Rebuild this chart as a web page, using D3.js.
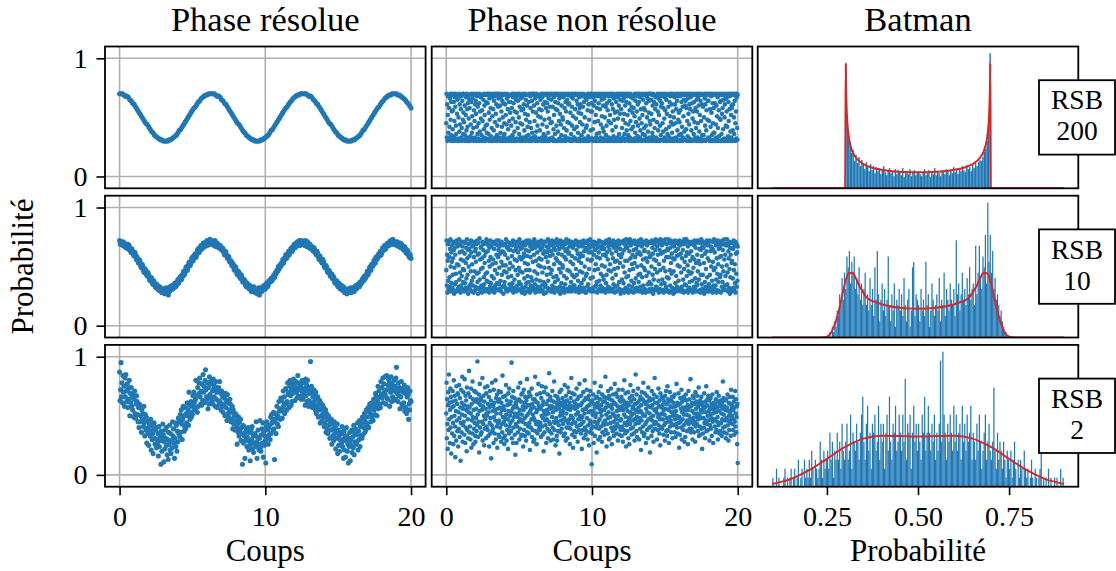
<!DOCTYPE html>
<html><head><meta charset="utf-8">
<script src="https://cdn.jsdelivr.net/npm/d3@7"></script>
<style>
body{margin:0;background:#fff}
svg{display:block}
</style>
</head><body><svg id="chart" width="1116" height="571"></svg>
<script>
// ===== DATA =====
const columnTitles = ["Phase résolue", "Phase non résolue", "Batman"];
const rowLabels = [["RSB", "200"], ["RSB", "10"], ["RSB", "2"]];
const xLabels = ["Coups", "Coups", "Probabilité"];
const yLabel = "Probabilité";
const shotTicks = [0, 10, 20];
const probTicks = [0, 1];
const histTicks = [0.25, 0.5, 0.75];
const shotRange = [0, 20];

// Phase résolue (probabilities in percent, evenly spaced shots over 0..20)
const resolved200 = [70,70,70,69,68,68,67,65,64,62,61,59,57,55,53,51,49,47,45,44,42,40,38,37,35,34,33,32,31,31,30,30,30,30,31,31,32,33,34,35,37,39,40,42,44,46,48,50,52,54,56,58,59,61,63,64,66,67,68,69,69,70,70,
70,70,70,69,68,68,67,65,64,62,61,59,57,55,53,51,49,47,45,44,42,40,38,37,35,34,33,32,31,31,30,30,30,30,31,31,32,33,34,35,37,39,40,42,44,46,48,50,52,54,56,58,59,61,63,64,66,67,68,69,69,70,70,
70,70,70,69,68,68,67,65,64,62,61,59,57,55,53,51,49,47,45,44,42,40,38,37,35,34,33,32,31,31,30,30,30,30,31,31,32,33,34,35,37,39,40,42,44,46,48,50,52,54,56,58,59,61,63,64,66,67,68,69,69,70,70,
70,70,69,69,68,67,66,65,63,62,60,58];

const resolved10 = [72,69,71,70,68,71,70,67,69,66,67,69,65,68,66,63,62,65,63,60,59,62,60,56,58,55,53,56,55,50,49,52,50,46,45,48,47,43,42,45,43,39,38,41,40,36,35,38,36,33,32,35,34,31,30,33,32,29,28,31,31,29,27,30,32,28,30,26,29,33,30,32,34,31,32,35,36,33,34,37,39,36,38,41,42,39,41,44,46,43,45,49,50,47,49,53,54,51,53,57,58,55,57,60,61,58,60,64,65,62,63,67,68,65,66,70,70,67,68,71,72,68,69,71,73,70,
69,72,71,68,70,72,67,69,70,67,66,68,68,65,64,66,65,62,60,63,62,59,57,59,58,54,54,55,51,53,52,48,47,50,48,44,43,46,45,41,40,43,41,37,37,39,38,34,33,36,35,32,31,34,33,29,30,32,33,29,28,31,31,27,29,32,26,30,32,29,30,33,34,31,31,35,36,33,34,38,38,37,40,38,39,42,43,41,45,44,47,46,50,48,51,50,53,52,56,53,57,56,60,57,58,61,63,60,62,65,66,63,65,68,69,66,67,70,71,68,70,72,68,71,72,69,
71,69,68,72,70,67,71,68,66,69,68,65,67,64,63,66,64,61,60,63,61,58,56,59,57,54,53,56,54,50,49,51,50,46,45,47,46,42,43,44,40,42,41,37,36,38,38,34,33,36,35,31,32,34,30,33,32,28,29,31,27,30,31,28,29,32,28,31,32,30,29,33,34,31,32,35,35,33,37,35,36,39,40,38,42,40,41,44,46,43,45,49,50,47,52,50,51,55,56,53,58,56,57,60,61,59,63,60,62,66,66,64,68,65,66,69,70,68,68,71,72,69,70,73,69,71,
71,69,68,71,70,67,68,70,66,69,67,65,64,67,66,62,61,64,62,59,58,60,57];

const resolved2 = [87,63,72,95,66,78,61,84,70,75,58,82,66,85,71,62,77,57,73,64,80,50,69,61,74,58,66,55,68,49,64,71,52,48,60,67,62,51,45,57,40,60,45,58,50,36,55,47,52,41,58,44,33,51,38,49,27,46,35,40,25,44,37,33,47,21,42,30,35,18,39,44,31,26,40,38,23,30,27,35,16,41,24,33,29,9,37,20,32,43,34,11,28,22,38,31,40,25,17,30,13,36,26,42,21,35,18,29,23,45,33,39,27,14,31,44,24,42,20,37,28,48,35,45,32,51,36,55,43,30,47,58,50,37,41,57,39,52,44,61,50,55,42,70,59,47,53,62,49,58,51,67,60,70,55,62,64,80,57,67,53,74,58,78,69,82,66,60,71,59,77,63,85,70,75,61,80,89,72,66,64,78,56,74,60,83,68,79,65,
77,62,71,60,81,73,66,75,58,79,64,70,57,72,63,74,60,79,62,69,55,71,58,66,53,68,60,65,50,69,57,63,46,68,52,61,49,55,64,60,45,53,47,58,39,55,43,50,38,52,46,51,40,26,43,36,49,33,45,38,47,29,40,35,9,42,27,41,33,14,36,30,39,24,32,29,40,21,36,25,12,26,38,30,41,22,34,19,33,27,35,24,45,28,14,32,38,26,21,31,46,23,20,34,39,27,44,15,37,25,33,29,10,41,45,31,38,26,40,34,42,30,49,35,51,44,47,38,53,39,13,45,52,35,48,58,43,50,41,62,54,56,47,65,63,54,48,57,71,59,66,52,61,73,60,55,62,78,68,70,57,75,80,67,59,72,62,77,69,81,74,76,63,71,79,70,65,73,84,67,66,77,72,78,75,64,71,80,68,
64,78,70,73,59,81,67,76,62,80,71,58,63,74,69,96,61,75,70,57,66,59,72,62,67,55,70,52,64,58,66,49,60,55,63,44,61,50,56,46,59,52,57,41,49,44,55,36,52,39,47,35,50,42,48,31,44,38,47,26,43,33,39,29,45,35,40,22,37,31,43,18,38,25,33,20,36,29,35,27,41,24,30,14,37,21,33,15,29,40,33,20,26,10,31,24,36,12,29,25,38,19,32,23,42,17,35,28,39,26,34,28,44,21,37,30,46,24,41,33,43,31,49,34,47,40,52,36,45,38,55,43,49,41,57,40,53,60,56,45,51,61,48,57,46,64,55,60,51,69,67,58,50,63,75,56,71,60,66,57,79,68,74,65,82,61,77,70,83,68,60,72,84,65,64,76,81,79,58,73,70,83,62,77,66,74,63,80,71,
75,64,82,91,69,73,62,78,67,74,56,71,66,79,60,73,58,70,61,76,54,69,57,72,52,66,74,68,47,60,55,71,63,62];

// Phase non résolue (probabilities in percent, evenly spaced shots over 0..20)
const unresolved200 = [45,70,33,61,30,52,68,37,31,69,58,42,32,66,70,48,35,63,30,55,
69,31,40,56,70,34,63,30,47,67,32,59,70,43,36,69,31,53,65,30,
32,66,50,30,70,38,61,44,69,31,57,33,68,41,30,64,70,48,36,54,
70,46,31,60,35,69,30,52,67,39,33,70,57,42,62,30,68,49,31,65,
58,30,69,34,44,70,63,31,37,51,66,32,70,41,30,56,69,47,33,61,
31,64,53,70,30,42,68,36,59,32,69,45,30,62,70,38,55,31,67,49,
68,35,30,56,69,47,31,65,70,40,33,60,52,30,69,43,63,32,70,37,
44,69,62,31,70,36,54,30,66,48,32,70,58,34,69,30,41,67,51,31,
30,57,70,39,64,31,68,46,33,70,53,30,61,69,35,43,70,32,59,66,
70,33,48,69,30,60,37,67,31,55,70,42,64,30,50,69,34,62,31,45,
36,70,61,30,52,69,32,44,66,31,70,57,40,68,30,63,47,33,69,54,
63,31,69,43,30,58,70,35,49,67,32,62,30,70,38,55,69,31,46,65,
30,68,54,32,70,41,64,31,69,50,36,70,59,30,45,66,33,69,56,31,
67,44,30,70,57,33,61,69,39,31,53,70,30,65,48,34,69,60,31,42,
52,69,35,63,30,70,46,31,68,58,32,41,70,30,64,37,69,55,33,70,
31,60,70,47,34,66,30,69,54,38,70,31,62,43,30,68,51,32,69,57,
69,39,31,65,50,30,70,56,33,67,44,31,70,61,36,30,69,48,63,32,
34,70,58,30,69,42,62,31,55,70,37,66,30,49,69,32,59,70,45,31,
65,31,46,70,33,59,69,30,40,67,52,31,70,36,63,30,57,69,43,70,
30,56,69,38,62,31,70,47,66,32,53,30,69,44,70,35,60,31,68,50,
48,30,67,70,41,31,58,69,34,63,30,55,70,39,32,65,46,69,31,61,
70,62,32,45,69,30,54,68,36,31,70,59,43,30,66,51,69,33,70,40,
33,69,57,31,70,49,30,64,42,69,31,61,37,70,54,30,67,32,58,46,
61,30,70,53,35,68,31,44,69,59,30,70,38,63,32,50,69,31,66,41,
30,65,43,69,31,56,70,34,61,30,48,69,67,32,70,39,55,31,62,70,
55,32,69,40,30,67,60,31,70,46,64,30,69,52,33,70,36,58,30,68,
69,47,31,62,70,37,30,57,68,33,44,70,31,65,51,30,69,41,60,32,
38,70,66,30,50,69,31,59,35,70,43,62,30,69,56,31,68,47,33,70,
64,30,52,69,32,45,70,31,61,68,39,30,57,70,34,66,48,69,30,54,
31,69,42,63,30,70,55,33,67,49,31,70,60,36,69,30,53,65,32,70,
57,30,69,41,64,33,70,48,31,66,53,36,69,30,60,45,70,32,63,39,
31,68,52,70,35,44,69,30,62,56,33,70,47,31,67,40,59,69,30,54,
66,42,30,58,69,32,51,70,37,64,30,46,68,31,55,70,34,61,43,69,
30,63,70,49,33,67,39,31,57,69,45,30,70,52,36,65,31,69,58,41,
69,35,56,30,70,43,62,32,68,50,31,66,38,70,30,54,64,33,47,70,
44,70,31,65,53,30,69,37,60,34,70,48,31,63,69,41,30,57,67,32,
33,61,69,46,30,70,55,39,66,31,52,69,30,43,64,70,35,59,31,68,
62,31,45,70,38,58,30,69,49,33,67,56,70,31,40,65,30,53,69,36,
30,69,59,34,70,42,63,31,51,68,30,46,70,61,32,37,69,55,44,30,
70,50,32,67,30,61,45,69,33,57,70,31,64,39,30,68,48,70,54,35,
46,30,68,56,31,70,36,63,69,42,30,59,33,70,51,65,31,38,69,60,
31,64,70,40,58,30,69,47,34,66,70,53,30,44,61,32,70,57,67,30,
68,39,31,62,70,49,30,55,69,36,63,31,46,70,33,58,69,41,30,65,
55,70,33,45,67,31,60,70,38,30,52,69,64,32,47,70,30,61,35,69,
30,59,69,35,50,70,31,66,43,61,30,70,39,56,69,31,48,64,70,33,
64,32,47,69,30,57,70,42,31,68,54,35,70,30,62,45,69,37,58,31,
37,70,62,30,69,44,33,60,70,51,31,67,41,30,69,56,34,70,49,63,
69,48,30,64,36,70,53,31,58,69,40,30,65,70,32,50,61,30,68,43,
31,66,55,70,42,30,69,34,63,47,70,31,57,68,30,38,70,52,33,60,
58,30,70,39,61,69,31,50,36,70,64,30,45,69,55,32,67,70,41,31,69];

const unresolved10 = [47,72,34,60,28,55,69,38,31,71,58,41,33,65,73,50,29,62,36,54,
68,32,43,57,71,30,64,27,49,66,35,60,70,44,37,72,29,52,67,31,
30,69,51,33,73,39,62,45,68,28,56,34,71,42,31,63,67,48,37,55,
71,47,29,61,36,70,32,53,66,40,30,73,57,43,64,27,69,50,33,65,
59,31,70,35,46,72,62,29,38,52,67,34,68,41,28,58,71,46,30,63,
33,65,54,69,31,44,72,37,60,27,70,45,32,61,74,39,56,30,66,48,
67,34,28,57,71,49,32,64,69,41,35,59,53,29,70,44,62,31,73,38,
45,70,63,30,68,37,55,28,66,50,33,72,58,36,67,31,42,69,52,29,
32,56,71,40,65,28,70,47,34,69,53,31,60,72,36,44,68,30,58,64,
72,35,49,67,31,61,38,70,29,54,71,43,63,33,51,68,27,62,34,46,
37,69,60,32,51,73,30,45,66,29,71,57,41,67,31,64,48,35,70,53,
64,30,70,42,33,59,68,36,50,72,28,63,31,69,39,56,71,32,47,65,
29,67,55,34,71,43,62,30,68,49,37,73,58,31,46,65,35,70,56,28,
66,45,32,69,58,30,61,71,40,27,53,68,33,64,47,36,72,59,29,42,
52,70,37,63,31,72,47,28,67,58,34,41,69,30,65,38,71,54,32,68,
30,60,73,46,35,66,28,70,55,39,68,31,62,44,33,71,51,29,67,57,
70,38,31,64,50,29,72,56,34,66,45,30,69,61,37,27,71,49,63,33,
35,71,58,28,67,43,62,32,54,73,38,65,30,49,70,31,59,68,44,29,
63,29,47,72,34,60,69,31,41,66,52,28,71,37,64,32,57,70,42,73,
31,55,68,39,61,29,70,48,65,33,53,27,72,45,69,36,60,30,67,51,
49,32,66,71,42,28,58,69,35,63,30,56,73,40,31,65,47,70,29,61,
72,62,30,46,67,33,54,70,37,29,71,59,43,31,66,52,68,34,69,41,
34,70,57,29,72,48,31,64,43,68,30,61,38,71,55,28,67,33,58,46,
61,31,71,53,36,69,29,45,67,59,32,72,39,63,30,50,70,28,66,42,
28,65,44,70,33,56,72,35,62,30,48,68,66,31,73,40,55,29,62,71,
56,30,68,41,32,67,60,29,71,47,64,33,70,52,34,69,37,58,28,66,
70,48,30,62,72,38,31,57,67,34,44,71,29,65,51,32,68,42,60,30,
39,69,65,31,50,71,28,59,36,72,43,62,30,70,56,33,67,47,29,73,
64,32,52,70,30,46,68,29,61,69,40,31,57,72,35,66,48,70,28,54,
33,68,43,63,29,71,55,34,66,49,30,72,60,37,69,31,53,65,27,70,
58,29,71,39,61,70,30,50,36,72,64,28,45,69,55,32,67,73,41,30,
31,66,55,72,42,28,70,34,63,47,73,30,57,68,29,38,71,52,33,60,
70,48,28,64,36,72,53,31,58,69,40,29,65,71,32,50,61,30,68,43,
37,72,62,29,70,44,33,60,73,51,30,67,41,28,69,56,34,71,49,63,
64,31,47,70,28,57,72,42,30,68,54,35,71,29,62,45,70,37,58,31,
29,59,70,35,50,72,31,66,43,61,27,71,39,56,69,30,48,64,73,33,
55,71,33,45,67,30,60,72,38,28,52,70,64,31,47,73,29,61,35,69,
68,39,30,62,72,49,28,55,70,36,63,31,46,73,33,58,69,41,29,65,
30,64,73,40,58,28,70,47,34,66,72,53,29,44,61,32,71,57,68,27,
46,28,67,56,31,72,36,63,70,42,29,59,33,71,51,65,30,38,69,60,
72,50,31,68,29,61,45,70,33,57,71,30,64,39,28,69,48,73,54,35,
29,70,59,34,73,42,62,30,51,67,28,46,71,61,32,37,69,55,44,30,
63,30,45,71,38,58,28,69,49,33,68,56,72,31,40,66,29,53,70,36,
34,60,72,46,29,71,55,39,65,30,52,70,28,43,64,73,35,59,31,67,
43,71,30,66,53,27,70,37,61,33,69,48,31,63,72,41,29,57,68,32,
70,35,55,29,72,43,63,32,67,50,30,66,38,71,28,54,64,34,47,73,
31,62,71,49,34,68,39,28,57,70,44,30,72,52,37,65,29,69,58,41,
67,43,28,59,71,33,50,72,37,64,30,46,69,31,56,73,34,60,42,68,
30,69,51,73,35,45,68,29,63,57,32,71,48,27,66,41,60,70,31,53,
55,29,70,40,65,32,72,47,30,67,52,36,71,28,61,44,69,33,62,38,67];

const unresolved2 = [52,78,31,64,43,22,59,70,38,85,47,61,27,55,73,40,66,18,49,57,
35,62,71,44,26,58,80,33,50,67,41,15,63,54,29,75,46,60,37,69,
68,24,53,39,76,48,32,65,57,12,44,72,36,61,51,83,28,56,42,70,
45,59,34,81,50,27,67,40,63,55,20,74,38,58,47,31,69,53,88,36,
57,41,66,30,52,73,23,60,46,35,79,49,64,26,55,39,71,44,62,33,
28,70,48,56,37,64,42,96,51,32,61,45,68,19,54,77,40,59,34,65,
63,36,55,45,82,29,58,43,67,50,25,62,39,74,47,56,31,69,52,41,
50,75,38,60,33,53,66,24,57,44,71,35,48,63,14,59,42,78,37,54,
39,58,27,72,49,61,35,55,46,80,30,65,52,41,68,23,56,44,62,34,
71,46,64,32,57,40,52,70,28,61,43,55,36,84,49,66,31,58,45,26,
55,33,48,67,42,76,51,29,63,38,59,47,22,69,54,35,73,41,60,50,
44,62,37,53,95,31,66,46,56,27,71,40,58,49,65,34,52,17,61,43,
60,27,57,41,63,49,36,74,52,45,64,30,55,39,78,47,62,33,68,51,
34,69,45,58,24,55,72,38,61,48,33,66,43,57,29,63,50,81,36,59,
66,41,52,35,70,44,59,21,54,67,40,56,47,73,32,60,38,51,64,28,
48,57,30,64,46,83,37,62,43,53,26,68,55,35,61,45,77,42,58,39,
57,38,69,44,56,32,65,50,75,41,59,34,48,62,20,54,70,36,52,46,
42,74,51,27,60,47,55,39,68,31,63,52,45,86,37,58,43,66,29,56,
63,35,58,49,71,40,53,30,62,45,79,38,57,44,67,25,55,48,61,33,
29,66,45,59,37,64,42,56,18,70,50,61,36,53,46,72,39,59,51,65,
54,43,62,33,57,48,76,35,60,46,29,67,52,40,63,56,31,74,44,58,
40,70,47,61,26,55,39,65,50,82,43,58,34,69,48,23,57,45,62,37,
68,32,56,44,60,51,36,73,41,57,64,28,53,47,66,38,59,77,42,50,
47,59,35,67,43,22,61,49,55,38,70,45,31,63,52,80,40,56,34,65,
56,37,72,48,58,30,64,42,53,67,25,59,46,36,71,44,54,62,39,9,
35,63,51,41,68,54,27,60,45,78,33,57,49,65,40,52,19,66,43,58,
61,45,30,70,39,56,47,64,32,53,75,41,59,50,28,68,36,55,62,44,
42,66,55,34,62,46,83,38,57,51,24,65,43,60,35,71,48,53,30,67,
58,31,64,49,44,73,40,59,26,56,63,37,52,68,45,33,61,50,77,41,
39,60,47,69,35,54,43,66,58,29,50,72,41,57,34,63,46,55,38,62,
47,66,33,58,41,72,28,55,63,38,51,80,44,60,35,69,49,24,57,42,
61,37,54,45,70,31,59,48,26,65,43,53,76,39,62,50,34,67,46,56,
40,58,71,35,52,64,29,47,60,43,85,55,37,68,49,32,61,45,73,53,
57,44,30,63,48,39,66,54,21,59,46,70,36,52,64,41,78,50,33,62,
35,69,50,43,60,27,56,45,67,38,53,62,31,74,47,58,40,65,52,19,
63,48,41,57,33,71,46,59,37,64,50,28,68,43,55,82,39,61,45,54,
44,56,66,30,52,61,38,49,73,42,58,35,63,47,25,69,51,40,57,66,
52,39,59,47,65,34,55,42,62,51,29,67,44,56,71,37,60,48,33,75,
38,64,45,55,27,62,49,70,41,58,46,36,63,53,43,66,31,57,50,61,
66,42,53,36,68,47,58,32,54,43,77,50,40,61,35,59,48,69,44,23,
49,60,34,65,45,56,40,72,30,53,62,47,57,38,66,42,51,28,64,55,
32,57,68,44,51,63,37,46,59,26,55,71,43,50,64,39,58,47,81,36,
58,45,39,61,54,30,67,48,43,65,36,52,60,45,28,70,41,56,62,49,
43,67,52,37,58,47,74,33,60,50,41,63,34,55,48,66,39,53,22,59,
61,35,56,48,40,69,44,57,31,62,53,46,75,37,59,43,64,50,38,67,
46,54,63,29,57,42,51,65,39,48,60,33,56,68,45,52,27,61,47,58,
55,41,47,60,36,64,53,38,70,45,57,49,30,62,42,67,54,35,59,44,
37,63,58,44,52,33,61,47,56,79,40,65,51,36,58,46,63,41,55,31,
64,48,35,57,46,68,42,54,29,61,50,38,66,44,53,60,33,72,47,56,
50,59,43,66,38,55,47,62,34,57,45,71,41,52,64,36,49,58,26,60,10];

// Batman histograms: bin counts over [lo, hi], sample sizes
const histLo = [0.3, 0.25, 0.1];
const histHi = [0.7, 0.75, 0.9];
const histSamples = [2500, 1000, 900];
const hist200 = [124,70,48,46,35,38,27,33,25,31,22,28,24,19,26,21,17,24,18,22,15,21,17,20,14,19,22,16,13,18,20,15,17,12,19,14,18,16,13,20,11,15,17,14,19,12,16,18,13,15,
17,14,12,16,19,13,15,18,11,16,14,20,13,17,15,12,18,16,14,19,17,13,18,15,21,16,19,14,20,17,22,18,16,23,19,21,17,24,20,25,22,26,28,27,31,36,39,47,62,134];
const hist10 = [0,0,1,0,2,1,3,2,5,4,8,6,11,7,12,9,15,13,16,10,14,12,15,9,11,8,13,7,10,6,9,12,6,8,5,11,
6,9,4,13,7,16,8,3,7,10,5,9,4,7,15,6,3,8,5,10,2,7,6,9,
5,8,4,11,6,3,7,9,2,5,13,14,4,8,7,6,3,9,5,7,4,14,6,8,2,5,10,7,4,6,
8,5,11,3,7,6,12,4,9,7,5,10,7,6,9,4,18,8,10,5,8,12,7,9,6,11,8,13,7,9,10,6,17,8,12,17,11,9,15,13,19,10,25,14,19,12,16,9,11,7,8,6,4,5,3,2,1,1,0,0];
const hist2 = [1,0,0,2,0,1,0,0, 0,1,2,0,1,0,1, 2,0,1,2,0,1,3,0, 1,2,0,3,1,2,1, 3,1,4,2,0,3,2,1, 2,5,3,1,4,2,3, 4,2,6,3,5,1,4,3, 6,3,5,2,7,4,3,
5,7,3,4,8,2,6,5, 4,7,5,3,6,8,10, 5,3,7,9,4,6,2,7, 6,8,4,5,9,3,7, 5,7,2,6,8,4,10,5, 3,7,6,9,4,5,8, 6,4,8,5,12,3,7,6, 8,2,6,9,5,7,4,
7,5,3,8,6,10,4,6, 9,6,4,7,5,8,3, 6,4,7,14,5,15,8,6, 3,7,5,8,6,4,9, 5,8,4,6,7,3,9,5, 7,4,8,5,6,9,3, 6,5,3,7,4,8,5,2, 4,6,8,3,5,7,4,
3,5,11,4,2,6,3,5, 4,2,5,3,1,4,3, 2,4,1,3,5,2,0,3, 1,3,2,0,4,2,1, 2,0,1,3,1,0,2,1, 0,1,2,4,0,1,0, 1,0,2,0,1,0,0,1, 0,1,0,0,2,0,1];

// Batman density curves (probability, density)
const curveX200 = [0.1,0.2999,0.3017,0.302,0.305,0.31,0.315,0.32,0.33,0.34,0.35,0.37,0.4,0.43,0.46,0.5,0.54,0.57,0.6,0.63,0.65,0.66,0.67,0.68,0.685,0.69,0.695,0.698,0.6983,0.7001,0.9];
const curveY200 = [0,0,12.4,11.28,7.16,5.10,4.19,3.65,3.02,2.65,2.41,2.09,1.84,1.70,1.62,1.59,1.62,1.70,1.84,2.09,2.41,2.65,3.02,3.65,4.19,5.10,7.16,11.28,12.4,0,0];
const curveX10 = [0.1,0.22,0.24,0.25,0.26,0.27,0.28,0.29,0.3,0.31,0.32,0.33,0.34,0.35,0.36,0.38,0.4,0.45,0.5,0.55,0.6,0.62,0.64,0.65,0.66,0.67,0.68,0.69,0.7,0.71,0.72,0.73,0.74,0.75,0.76,0.78,0.9];
const curveY10 = [0,0,0.01,0.05,0.22,0.64,1.28,2.14,3.06,3.57,3.59,3.26,2.83,2.49,2.2,1.99,1.85,1.65,1.6,1.65,1.85,1.99,2.2,2.49,2.83,3.26,3.59,3.57,3.06,2.14,1.28,0.64,0.22,0.05,0.01,0,0];
const curveX2 = [0.1,0.15,0.2,0.25,0.3,0.35,0.4,0.45,0.5,0.55,0.6,0.65,0.7,0.75,0.8,0.85,0.9];
const curveY2 = [0.10,0.28,0.60,1.03,1.47,1.78,1.89,1.88,1.86,1.88,1.89,1.78,1.47,1.03,0.60,0.28,0.10];

// ===== DRAWING =====
const svg = d3.select("#chart");
const colX = [105, 431.7, 757.7], colW = 320.6;
const rowY = [46.5, 195.7, 344.9], rowH = 141.8;
const blue = "#1f77b4", red = "#d62728", gridColor = "#b0b0b0";
const serif = "'Liberation Serif', 'DejaVu Serif', 'Times New Roman', serif";

const scatterSets = [[resolved200, unresolved200], [resolved10, unresolved10], [resolved2, unresolved2]];
const histSets = [hist200, hist10, hist2];
const curveSets = [[curveX200, curveY200], [curveX10, curveY10], [curveX2, curveY2]];

const defs = svg.append("defs");

function styleAxis(g) {
  g.select(".domain").remove();
  g.attr("font-family", serif).attr("font-size", 28);
  g.selectAll(".tick line").attr("stroke", "#000").attr("stroke-width", 1.6);
  g.selectAll(".tick text").attr("fill", "#000").attr("font-family", serif);
}

for (let r = 0; r < 3; r++) {
  for (let c = 0; c < 3; c++) {
    const x0 = colX[c], y0 = rowY[r];
    const clipId = `clip${r}${c}`;
    defs.append("clipPath").attr("id", clipId).append("rect")
      .attr("x", x0).attr("y", y0).attr("width", colW).attr("height", rowH);
    const g = svg.append("g");

    if (c < 2) {
      const xs = d3.scaleLinear().domain([shotRange[0] - 1, shotRange[1] + 1]).range([x0, x0 + colW]);
      const ys = d3.scaleLinear().domain([-0.1, 1.1]).range([y0 + rowH, y0]);
      const grid = g.append("g").attr("clip-path", `url(#${clipId})`)
        .attr("stroke", gridColor).attr("stroke-width", 1.6);
      shotTicks.forEach(t => grid.append("line").attr("x1", xs(t)).attr("x2", xs(t)).attr("y1", y0).attr("y2", y0 + rowH));
      probTicks.forEach(t => grid.append("line").attr("y1", ys(t)).attr("y2", ys(t)).attr("x1", x0).attr("x2", x0 + colW));
      const data = scatterSets[r][c];
      const n = data.length;
      g.append("g").attr("clip-path", `url(#${clipId})`)
        .selectAll("circle").data(data).join("circle")
        .attr("cx", (d, i) => xs(shotRange[0] + i * (shotRange[1] - shotRange[0]) / (n - 1)))
        .attr("cy", d => ys(d / 100))
        .attr("r", c === 0 ? 2.55 : 2.3).attr("fill", blue);
      if (c === 0) {
        g.append("g").attr("transform", `translate(${x0},0)`)
          .call(d3.axisLeft(ys).tickValues(probTicks).tickSize(8.5).tickPadding(9).tickFormat(d3.format("d")))
          .call(styleAxis);
      }
      if (r === 2) {
        g.append("g").attr("transform", `translate(0,${y0 + rowH})`)
          .call(d3.axisBottom(xs).tickValues(shotTicks).tickSize(8.5).tickPadding(11).tickFormat(d3.format("d")))
          .call(styleAxis);
      }
    } else {
      const counts = histSets[r];
      const lo = histLo[r], hi = histHi[r];
      const w = (hi - lo) / counts.length;
      const dens = counts.map(k => k / (histSamples[r] * w));
      const xs = d3.scaleLinear().domain([0.06, 0.94]).range([x0, x0 + colW]);
      const ys = d3.scaleLinear().domain([0, d3.max(dens) * 1.05]).range([y0 + rowH, y0]);
      const hg = g.append("g").attr("clip-path", `url(#${clipId})`);
      hg.selectAll("rect").data(dens).join("rect")
        .attr("x", (d, i) => xs(lo + i * w))
        .attr("width", (d, i) => xs(lo + (i + 1) * w) - xs(lo + i * w))
        .attr("y", d => ys(d))
        .attr("height", d => ys(0) - ys(d))
        .attr("fill", blue);
      const [cx, cy] = curveSets[r];
      const line = d3.line().x((d, i) => xs(cx[i])).y(d => ys(d)).curve(d3.curveMonotoneX);
      hg.append("path").attr("d", line(cy)).attr("fill", "none")
        .attr("stroke", red).attr("stroke-width", 2);
      if (r === 2) {
        g.append("g").attr("transform", `translate(0,${y0 + rowH})`)
          .call(d3.axisBottom(xs).tickValues(histTicks).tickSize(8.5).tickPadding(11).tickFormat(d3.format(".2f")))
          .call(styleAxis);
      }
    }
    g.append("rect").attr("x", x0).attr("y", y0).attr("width", colW).attr("height", rowH)
      .attr("fill", "none").attr("stroke", "#000").attr("stroke-width", 1.8);
  }
}

function addText(x, y, size, str, anchor) {
  return svg.append("text").attr("x", x).attr("y", y)
    .attr("text-anchor", anchor || "middle")
    .attr("font-family", serif).attr("font-size", size).attr("fill", "#000").text(str);
}

// column titles
columnTitles.forEach((t, c) => addText(colX[c] + colW / 2, 31, 34.5, t));
// x labels
xLabels.forEach((t, c) => addText(colX[c] + colW / 2, 561, 31, t));
// y label
svg.append("text").attr("transform", `translate(33.3,${(rowY[0] + rowY[2] + rowH) / 2}) rotate(-90)`)
  .attr("text-anchor", "middle").attr("font-family", serif).attr("font-size", 31).attr("fill", "#000").text(yLabel);

// row boxes
rowLabels.forEach((lines, r) => {
  const cy = rowY[r] + rowH / 2;
  svg.append("rect").attr("x", 1039).attr("y", cy - 37.2).attr("width", 76).attr("height", 74.4)
    .attr("fill", "#fff").attr("stroke", "#000").attr("stroke-width", 1.8);
  addText(1077, cy - 8, 27.5, lines[0]);
  addText(1077, cy + 23, 27.5, lines[1]);
});
</script>
</body></html>
